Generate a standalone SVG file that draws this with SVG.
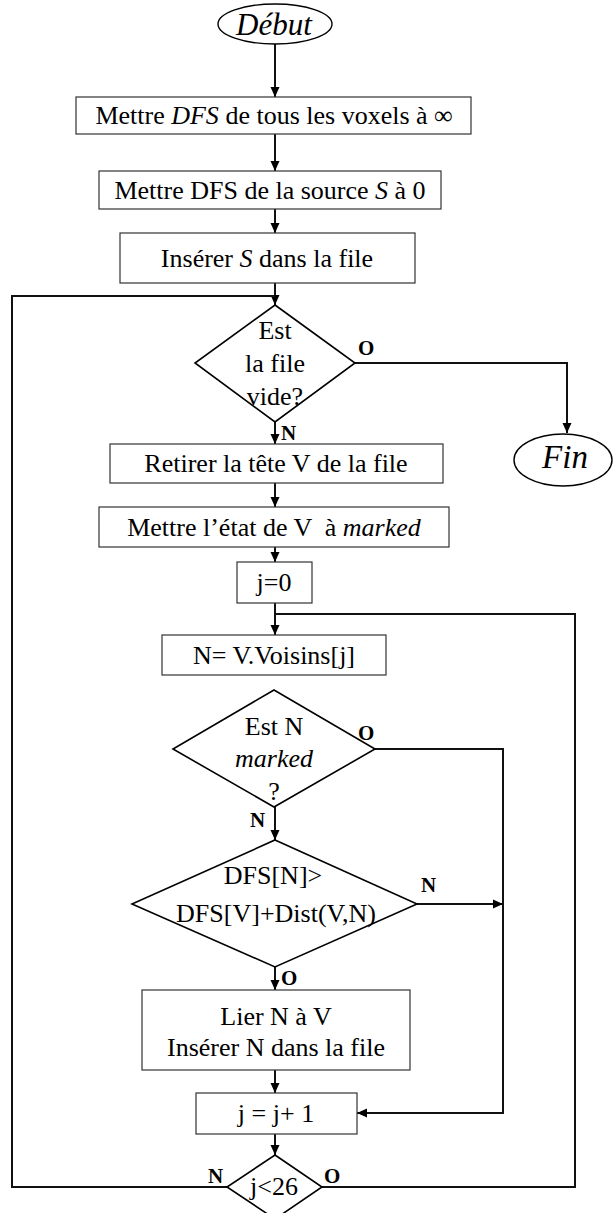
<svg xmlns="http://www.w3.org/2000/svg" width="613" height="1213" viewBox="0 0 613 1213">
<defs>
<style>
.t{font-family:"Liberation Serif","Times New Roman",serif;font-size:26px;fill:#000;text-anchor:middle}
.i{font-style:italic}
.lb{font-family:"Liberation Serif","Times New Roman",serif;font-size:21px;font-weight:bold;fill:#000}
.box{fill:#fff;stroke:#333;stroke-width:1.2}
.dia{fill:#fff;stroke:#000;stroke-width:1.6}
.ell{fill:#fff;stroke:#000;stroke-width:1.4}
.c{fill:none;stroke:#111;stroke-width:2}
</style>
<marker id="ah" viewBox="0 0 10 10" refX="10" refY="5" markerWidth="10" markerHeight="10" markerUnits="userSpaceOnUse" orient="auto">
<path d="M0,0.5 L10,5 L0,9.5 z" fill="#000"/>
</marker>
</defs>
<rect width="613" height="1213" fill="#fff"/>
<g id="connectors">
<path class="c" d="M275,44 V97" marker-end="url(#ah)"/>
<path class="c" d="M275,134 V171" marker-end="url(#ah)"/>
<path class="c" d="M275,209 V233" marker-end="url(#ah)"/>
<path class="c" d="M275,283 V305" marker-end="url(#ah)"/>
<path class="c" d="M355,363 H567 V433" marker-end="url(#ah)"/>
<path class="c" d="M275,422 V444" marker-end="url(#ah)"/>
<path class="c" d="M275,483 V507" marker-end="url(#ah)"/>
<path class="c" d="M275,547 V562" marker-end="url(#ah)"/>
<path class="c" d="M275,603 V635" marker-end="url(#ah)"/>
<path class="c" d="M375,749 H503 V1113 H357" marker-end="url(#ah)"/>
<path class="c" d="M275,807 V840" marker-end="url(#ah)"/>
<path class="c" d="M417,904 H503" marker-end="url(#ah)"/>
<path class="c" d="M275,967 V990" marker-end="url(#ah)"/>
<path class="c" d="M275,1070 V1093" marker-end="url(#ah)"/>
<path class="c" d="M275,1134 V1155" marker-end="url(#ah)"/>
<path class="c" d="M227,1187 H12 V296 H275"/>
<path class="c" d="M322,1187 H575 V614 H275"/>
</g>
<g id="debut">
<ellipse class="ell" cx="275" cy="24" rx="57" ry="20"/>
<text class="t i" x="274" y="35" style="font-size:31px">Début</text>
</g>
<g id="box1">
<rect class="box" x="76" y="97" width="395" height="37"/>
<text class="t" x="274" y="124">Mettre <tspan class="i">DFS</tspan> de tous les voxels à ∞</text>
</g>
<g id="box2">
<rect class="box" x="99" y="171" width="342" height="38"/>
<text class="t" x="270" y="199">Mettre DFS de la source <tspan class="i">S</tspan> à 0</text>
</g>
<g id="box3">
<rect class="box" x="120" y="233" width="295" height="50"/>
<text class="t" x="267" y="267">Insérer <tspan class="i">S</tspan> dans la file</text>
</g>
<g id="dec1">
<polygon class="dia" points="275,305 355,363 275,422 195,363"/>
<text class="t" x="275" y="339">Est</text>
<text class="t" x="275" y="372">la file</text>
<text class="t" x="275" y="405">vide?</text>
<text class="lb" x="358" y="355">O</text>
<text class="lb" x="281" y="440">N</text>
</g>
<g id="fin">
<ellipse class="ell" cx="563" cy="460" rx="49" ry="26"/>
<text class="t i" x="565" y="468" style="font-size:33px">Fin</text>
</g>
<g id="box4">
<rect class="box" x="110" y="444" width="333" height="39"/>
<text class="t" x="276" y="472">Retirer la tête V de la file</text>
</g>
<g id="box5">
<rect class="box" x="99" y="507" width="350" height="40"/>
<text class="t" x="274" y="536" xml:space="preserve">Mettre l’état de V  à <tspan class="i">marked</tspan></text>
</g>
<g id="box6">
<rect class="box" x="237" y="562" width="75" height="41"/>
<text class="t" x="274" y="591">j=0</text>
</g>
<g id="box7">
<rect class="box" x="162" y="635" width="224" height="40"/>
<text class="t" x="274" y="664">N= V.Voisins[j]</text>
</g>
<g id="dec2">
<polygon class="dia" points="274,690 375,749 274,807 173,749"/>
<text class="t" x="274" y="735">Est N</text>
<text class="t i" x="274" y="767">marked</text>
<text class="t" x="274" y="800">?</text>
<text class="lb" x="358" y="740">O</text>
<text class="lb" x="250" y="827">N</text>
</g>
<g id="dec3">
<polygon class="dia" points="275,840 417,904 275,967 132,904"/>
<text class="t" x="273" y="884">DFS[N]&gt;</text>
<text class="t" x="276" y="922">DFS[V]+Dist(V,N)</text>
<text class="lb" x="421" y="892">N</text>
<text class="lb" x="281" y="985">O</text>
</g>
<g id="box8">
<rect class="box" x="142" y="990" width="268" height="80"/>
<text class="t" x="276" y="1025">Lier N à V</text>
<text class="t" x="276" y="1056">Insérer N dans la file</text>
</g>
<g id="box9">
<rect class="box" x="196" y="1093" width="161" height="41"/>
<text class="t" x="276" y="1122">j = j+ 1</text>
</g>
<g id="dec4">
<polygon class="dia" points="275,1155 322,1187 275,1219 227,1187"/>
<text class="t" x="274" y="1195">j&lt;26</text>
<text class="lb" x="208" y="1183">N</text>
<text class="lb" x="324" y="1183">O</text>
</g>
</svg>
